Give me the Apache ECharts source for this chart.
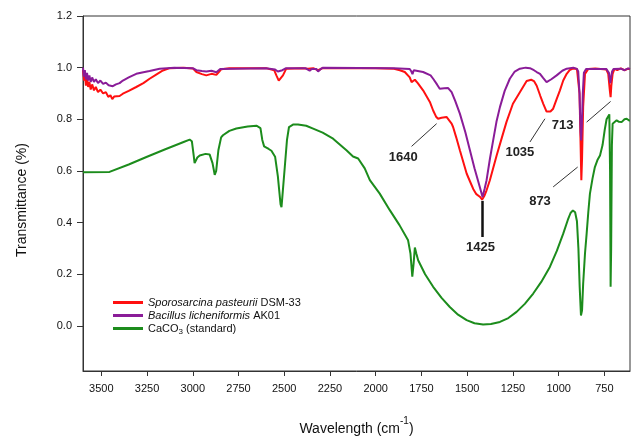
<!DOCTYPE html>
<html>
<head>
<meta charset="utf-8">
<script src="https://cdn.jsdelivr.net/npm/echarts@6/dist/echarts.min.js"></script>
<style>
  html, body { margin: 0; padding: 0; background: #fff; }
  #chart { width: 634px; height: 438px; }
</style>
</head>
<body>
<div id="chart"></div>
<script>
// FTIR spectra, [wavenumber, transmittance]
var xTicks = [3500, 3250, 3000, 2750, 2500, 2250, 2000, 1750, 1500, 1250, 1000, 750]
var yTicks = [0, 0.2, 0.4, 0.6, 0.8, 1.0, 1.2]

var seriesNames = ['Sporosarcina pasteurii DSM-33', 'Bacillus licheniformis AK01', 'CaCO3 (standard)']

var redData = [
  [3600, 0.99], [3594, 0.95], [3590, 0.975], [3584, 0.93], [3578, 0.96], [3572, 0.925], [3565, 0.945],
  [3558, 0.915], [3550, 0.935], [3540, 0.912], [3530, 0.925], [3518, 0.905], [3505, 0.915], [3490, 0.9],
  [3475, 0.905], [3462, 0.887], [3450, 0.893], [3440, 0.878], [3430, 0.888], [3420, 0.882], [3400, 0.89],
  [3382, 0.899], [3350, 0.91], [3309, 0.925], [3270, 0.94], [3236, 0.957], [3200, 0.973], [3163, 0.989],
  [3126, 0.998], [3050, 1.0], [3000, 0.997], [2980, 0.983], [2950, 0.975], [2926, 0.97], [2898, 0.976],
  [2871, 0.972], [2855, 0.985], [2844, 0.994], [2800, 0.998], [2600, 0.998], [2555, 0.99], [2543, 0.97],
  [2530, 0.95], [2520, 0.95], [2507, 0.97], [2489, 0.996], [2400, 0.998], [2370, 0.996], [2360, 0.99],
  [2342, 0.998], [2315, 0.99], [2290, 0.998], [2000, 0.998], [1900, 0.996], [1868, 0.99], [1841, 0.983],
  [1814, 0.962], [1804, 0.944], [1796, 0.944], [1786, 0.953], [1770, 0.94], [1741, 0.912], [1704, 0.867],
  [1686, 0.834], [1670, 0.81], [1659, 0.802], [1640, 0.806], [1613, 0.809], [1585, 0.783], [1577, 0.77],
  [1560, 0.73], [1540, 0.68], [1503, 0.59], [1485, 0.56], [1467, 0.53], [1450, 0.51], [1431, 0.5],
  [1418, 0.489], [1405, 0.505], [1394, 0.525], [1376, 0.564], [1339, 0.66], [1310, 0.73], [1285, 0.79],
  [1250, 0.86], [1212, 0.905], [1175, 0.948], [1150, 0.953], [1135, 0.948], [1120, 0.93], [1100, 0.89],
  [1084, 0.86], [1066, 0.83], [1057, 0.824], [1045, 0.83], [1030, 0.841], [1010, 0.88], [993, 0.912],
  [975, 0.95], [956, 0.976], [940, 0.99], [920, 0.997], [900, 0.995], [893, 0.988], [886, 0.9],
  [880, 0.7], [876, 0.564], [872, 0.65], [866, 0.85], [856, 0.976], [838, 0.995], [800, 0.997],
  [740, 0.993], [729, 0.976], [720, 0.91], [716, 0.886], [712, 0.93], [705, 0.976], [695, 0.995],
  [680, 0.99], [660, 0.997], [640, 0.99], [620, 0.996], [610, 0.995]
]

var purpleData = [
  [3600, 1.0], [3595, 0.965], [3590, 0.99], [3584, 0.955], [3578, 0.98], [3572, 0.95], [3565, 0.97],
  [3558, 0.945], [3550, 0.962], [3540, 0.945], [3530, 0.955], [3518, 0.94], [3505, 0.95], [3490, 0.937],
  [3475, 0.942], [3460, 0.932], [3450, 0.936], [3437, 0.928], [3420, 0.935], [3400, 0.94], [3382, 0.95],
  [3350, 0.962], [3309, 0.976], [3270, 0.982], [3236, 0.987], [3181, 0.996], [3100, 1.0], [3000, 0.998],
  [2980, 0.99], [2950, 0.987], [2926, 0.985], [2898, 0.988], [2871, 0.982], [2850, 0.995], [2600, 0.998],
  [2550, 0.993], [2535, 0.985], [2525, 0.979], [2510, 0.99], [2490, 0.998], [2385, 0.998], [2375, 1.0],
  [2361, 0.988], [2350, 0.995], [2342, 1.0], [2325, 0.995], [2315, 0.985], [2300, 0.995], [2288, 1.0],
  [1900, 0.998], [1814, 0.995], [1805, 0.985], [1799, 0.975], [1792, 0.99], [1786, 0.995], [1741, 0.983],
  [1700, 0.97], [1686, 0.957], [1665, 0.935], [1650, 0.918], [1625, 0.92], [1604, 0.921], [1585, 0.905],
  [1565, 0.87], [1540, 0.822], [1510, 0.75], [1485, 0.68], [1460, 0.61], [1431, 0.538], [1416, 0.499],
  [1405, 0.53], [1394, 0.564], [1375, 0.65], [1358, 0.718], [1340, 0.79], [1321, 0.847], [1295, 0.91],
  [1267, 0.957], [1240, 0.985], [1212, 0.996], [1180, 1.0], [1157, 0.998], [1135, 0.99], [1120, 0.983],
  [1102, 0.976], [1085, 0.96], [1066, 0.944], [1040, 0.955], [1011, 0.97], [980, 0.988], [956, 0.996],
  [920, 1.0], [900, 0.995], [893, 0.985], [886, 0.9], [880, 0.75], [877, 0.718], [873, 0.78], [868, 0.9],
  [862, 0.98], [850, 0.995], [740, 0.995], [725, 0.98], [718, 0.94], [714, 0.945], [708, 0.985],
  [700, 0.995], [660, 0.996], [640, 0.99], [620, 0.997], [610, 0.995]
]

var greenData = [
  [3600, 0.595], [3455, 0.596], [3350, 0.625], [3250, 0.655], [3150, 0.684], [3050, 0.712], [3017, 0.721],
  [3005, 0.715], [2995, 0.66], [2990, 0.63], [2975, 0.652], [2962, 0.66], [2930, 0.666], [2908, 0.664],
  [2892, 0.63], [2880, 0.585], [2872, 0.6], [2860, 0.68], [2845, 0.73], [2835, 0.738], [2800, 0.755],
  [2762, 0.764], [2700, 0.772], [2652, 0.775], [2630, 0.766], [2620, 0.72], [2610, 0.695], [2585, 0.685],
  [2570, 0.678], [2550, 0.655], [2535, 0.58], [2520, 0.47], [2515, 0.46], [2508, 0.52], [2497, 0.615],
  [2485, 0.72], [2474, 0.77], [2450, 0.78], [2425, 0.78], [2380, 0.775], [2342, 0.764], [2290, 0.748],
  [2233, 0.725], [2160, 0.68], [2124, 0.656], [2096, 0.648], [2060, 0.61], [2032, 0.564], [1978, 0.512],
  [1923, 0.448], [1870, 0.39], [1823, 0.331], [1810, 0.28], [1800, 0.19], [1793, 0.24], [1786, 0.303],
  [1778, 0.28], [1768, 0.254], [1730, 0.2], [1686, 0.151], [1640, 0.108], [1595, 0.073], [1550, 0.043],
  [1503, 0.022], [1460, 0.01], [1413, 0.005], [1370, 0.007], [1321, 0.015], [1275, 0.03], [1230, 0.054],
  [1185, 0.085], [1139, 0.125], [1095, 0.17], [1048, 0.228], [1010, 0.29], [975, 0.357], [950, 0.41],
  [935, 0.437], [922, 0.447], [910, 0.44], [900, 0.405], [892, 0.3], [885, 0.15], [878, 0.04], [872, 0.06],
  [866, 0.164], [856, 0.28], [847, 0.357], [838, 0.44], [829, 0.512], [815, 0.57], [802, 0.615],
  [788, 0.642], [774, 0.66], [760, 0.7], [748, 0.76], [738, 0.8], [723, 0.819], [719, 0.6], [716, 0.151],
  [713, 0.3], [709, 0.7], [705, 0.783], [695, 0.79], [683, 0.796], [670, 0.79], [656, 0.789],
  [640, 0.8], [628, 0.802], [615, 0.795], [610, 0.795]
]

// peak annotations: label text, label position, leader line ends
var peakLabels = ['1640', '1425', '1035', '873', '713']
var peakLabelPos = [[1850, 0.651], [1427, 0.303], [1212, 0.673], [1102, 0.48], [978, 0.776]]
var peakLines = [
  [[1804, 0.695], [1667, 0.783]],
  [[1418, 0.484], [1418, 0.344]],
  [[1157, 0.712], [1075, 0.802]],
  [[1030, 0.538], [896, 0.615]],
  [[847, 0.789], [716, 0.869]]
]

var chart = echarts.init(document.getElementById('chart'), null, { renderer: 'canvas' })

var font = 'Arial, "Liberation Sans", sans-serif'

var markLineData = peakLines.map(function (l, i) {
  return [
    { coord: l[0], lineStyle: { color: i === 1 ? '#111' : '#333', width: i === 1 ? 2.5 : 1, type: 'solid' } },
    { coord: l[1] }
  ]
})
var markPointData = peakLabels.map(function (t, i) {
  return { coord: peakLabelPos[i], value: t }
})

var option = {
  animation: false,
  backgroundColor: '#fff',
  grid: {
    left: 83,
    right: 4,
    top: 16,
    bottom: 67,
    outerBoundsMode: 'none',
    containLabel: false,
    show: true,
    borderColor: '#333',
    borderWidth: 1
  },
  legend: {
    data: seriesNames,
    orient: 'vertical',
    left: 108,
    top: 292,
    itemWidth: 30,
    itemHeight: 3,
    itemGap: 2,
    icon: 'rect',
    textStyle: {
      fontFamily: font,
      fontSize: 11,
      color: '#111',
      rich: {
        i: { fontStyle: 'italic', fontSize: 11, color: '#111', fontFamily: font, lineHeight: 14 },
        n: { fontSize: 11, color: '#111', fontFamily: font, lineHeight: 14 },
        s: { fontSize: 8, color: '#111', fontFamily: font, lineHeight: 8, verticalAlign: 'bottom' }
      }
    },
    formatter: function (name) {
      if (name === seriesNames[0]) return '{i|Sporosarcina pasteurii} {n|DSM-33}'
      if (name === seriesNames[1]) return '{i|Bacillus licheniformis} {n|AK01}'
      return '{n|CaCO}{s|3}{n|\u00a0(standard)}'
    }
  },
  xAxis: {
    type: 'value',
    inverse: true,
    min: 610,
    max: 3600,
    name: '{a|Wavelength (cm}{b|-1}{a|)}',
    nameLocation: 'middle',
    nameGap: 45,
    nameTextStyle: {
      rich: {
        a: { fontSize: 14, fontFamily: font, color: '#111', lineHeight: 20, verticalAlign: 'bottom' },
        b: { fontSize: 10, fontFamily: font, color: '#111', lineHeight: 12, verticalAlign: 'top' }
      }
    },
    axisLine: { show: true, onZero: false, lineStyle: { color: '#333' } },
    axisTick: { show: true, customValues: xTicks, length: 5, lineStyle: { color: '#333' } },
    axisLabel: {
      customValues: xTicks,
      margin: 12,
      fontSize: 11,
      fontFamily: font,
      color: '#111',
      formatter: function (v) { return String(v) }
    },
    splitLine: { show: false }
  },
  yAxis: {
    type: 'value',
    min: -0.175,
    max: 1.2,
    name: 'Transmittance (%)',
    nameLocation: 'middle',
    nameRotate: 90,
    nameGap: 54,
    nameTextStyle: { fontSize: 14, fontFamily: font, color: '#111', padding: [0, 13, 0, 0] },
    axisLine: { show: true, onZero: false, lineStyle: { color: '#333' } },
    axisTick: { show: true, customValues: yTicks, length: 6, lineStyle: { color: '#333' } },
    axisLabel: {
      customValues: yTicks,
      margin: 11,
      fontSize: 11,
      fontFamily: font,
      color: '#111',
      formatter: function (v) { return v.toFixed(1) }
    },
    splitLine: { show: false }
  },
  series: [
    {
      name: seriesNames[2],
      type: 'line',
      data: greenData,
      showSymbol: false,
      symbol: 'none',
      color: '#1c8c1c',
      lineStyle: { width: 2, color: '#1c8c1c' }
    },
    {
      name: seriesNames[0],
      type: 'line',
      data: redData,
      showSymbol: false,
      symbol: 'none',
      color: '#ff1010',
      lineStyle: { width: 2, color: '#ff1010' }
    },
    {
      name: seriesNames[1],
      type: 'line',
      data: purpleData,
      showSymbol: false,
      symbol: 'none',
      color: '#8a1c98',
      lineStyle: { width: 2, color: '#8a1c98' },
      markLine: {
        silent: true,
        symbol: ['none', 'none'],
        label: { show: false },
        data: markLineData
      },
      markPoint: {
        silent: true,
        symbol: 'circle',
        symbolSize: 0,
        label: {
          show: true,
          position: 'inside',
          formatter: function (p) { return p.value },
          fontSize: 13,
          fontWeight: 'bold',
          fontFamily: font,
          color: '#222'
        },
        data: markPointData
      }
    }
  ]
}

chart.setOption(option)
</script>
</body>
</html>
